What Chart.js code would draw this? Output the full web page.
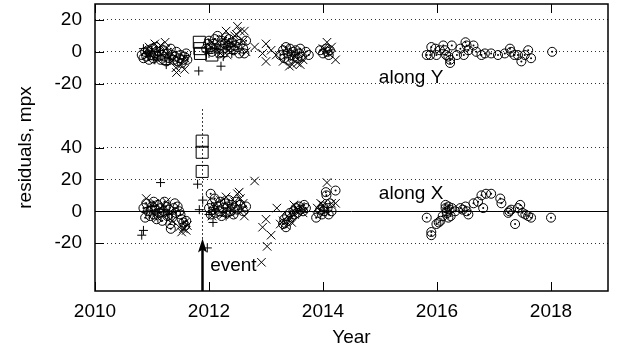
<!DOCTYPE html>
<html>
<head>
<meta charset="utf-8">
<script src="https://cdn.jsdelivr.net/npm/chart.js@4/dist/chart.umd.min.js"></script>
<style>
  html, body { margin: 0; padding: 0; background: #fff; }
  canvas { display: block; }
</style>
</head>
<body>
<canvas id="residualsChart" width="625" height="358"></canvas>
<script>
// residuals as [year, mpx]; upper panel = along Y, lower panel = along X
const alongYCircles = [
  [2010.82,-2],[2010.85,-4],[2010.88,0],[2010.9,-3],[2010.93,1],[2010.95,-5],[2010.98,-2],[2011.0,2],[2011.02,-4],[2011.05,-1],
  [2011.07,3],[2011.1,-3],[2011.12,0],[2011.15,-5],[2011.17,-2],[2011.2,1],[2011.22,-3],[2011.25,-6],[2011.27,-1],[2011.3,-4],
  [2011.33,2],[2011.35,-2],[2011.38,-5],[2011.4,-3],[2011.43,0],[2011.45,-6],[2011.48,-4],[2011.5,-2],[2011.52,-7],[2011.55,-5],
  [2011.57,-3],[2011.6,-1],[2011.62,-5],
  [2011.95,2],[2011.98,5],[2012.0,7],[2012.03,3],[2012.05,0],[2012.08,5],[2012.1,8],[2012.13,2],[2012.15,10],[2012.18,-1],
  [2012.2,4],[2012.22,7],[2012.25,2],[2012.28,5],[2012.3,9],[2012.33,4],[2012.35,8],[2012.38,3],[2012.4,6],[2012.43,1],
  [2012.45,4],[2012.48,7],[2012.5,3],[2012.53,-1],[2012.55,5],[2012.6,2],[2012.62,-1],[2012.65,7],
  [2013.25,-2],[2013.3,1],[2013.32,-4],[2013.35,3],[2013.38,-1],[2013.4,-5],[2013.42,2],[2013.45,-2],[2013.48,0],[2013.5,-3],
  [2013.52,1],[2013.55,-4],[2013.58,-1],[2013.6,2],[2013.63,-3],[2013.7,0],[2013.75,-2],
  [2013.95,1],[2014.0,-1],[2014.05,2],[2014.08,0],[2014.1,-2],[2014.12,1],
  [2015.82,-2],[2015.88,-2],[2015.9,3],[2015.97,2],[2015.99,-2],[2016.05,1],[2016.11,4],[2016.14,1],[2016.16,-2],[2016.2,-3],
  [2016.23,-5],[2016.23,-7],[2016.26,4],[2016.35,-2],[2016.41,2],[2016.47,-2],[2016.5,6],[2016.52,4],[2016.55,1],[2016.64,4],
  [2016.69,0],[2016.78,-2],[2016.84,-1],[2016.95,-1],[2017.07,-2],[2017.19,-1],[2017.28,2],[2017.3,0],[2017.36,-2],[2017.42,-2],
  [2017.48,-6],[2017.54,-2],[2017.6,1],[2017.65,-4],
  [2018.02,0]
];
const alongYCrosses = [
  [2010.95,3],[2011.0,1],[2011.05,5],[2011.1,-5],[2011.15,4],[2011.23,6],[2011.25,2],[2011.3,-3],[2011.35,-6],[2011.42,-10],
  [2011.43,-13],[2011.51,-8],[2011.57,-11],[2011.58,-4],
  [2012.05,6],[2012.15,3],[2012.2,-1],[2012.25,8],[2012.3,13],[2012.32,-2],[2012.35,1],[2012.4,5],[2012.45,10],[2012.48,11],
  [2012.5,16],[2012.55,13],[2012.6,7],[2012.62,13],[2012.65,0],
  [2012.8,3],[2012.94,-1],[2013.0,5],[2013.0,-6],[2013.09,1],[2013.18,-2],
  [2013.3,-6],[2013.35,2],[2013.41,-9],[2013.46,-8],[2013.5,-3],[2013.55,-7],[2013.6,-8],[2013.65,-5],
  [2014.0,2],[2014.07,6],[2014.1,-1],[2014.15,3],[2014.22,-5]
];
const alongYPluses = [
  [2010.85,2],[2010.9,-1],[2010.95,-3],[2011.0,0],[2011.05,-5],[2011.1,-2],[2011.15,1],[2011.25,-8],[2011.3,-4],
  [2011.82,-12],
  [2011.95,0],[2012.0,-1],[2012.1,2],[2012.21,-9],[2012.25,-3],[2012.3,3],[2012.4,-1]
];
const alongYSquares = [[2011.83,6],[2011.84,2],[2011.85,-1],[2012.05,-2]];

const alongXCircles = [
  [2010.85,2],[2010.88,-4],[2010.9,5],[2010.93,0],[2010.97,-3],[2011.0,3],[2011.03,-2],[2011.03,6],[2011.05,1],[2011.08,-5],
  [2011.1,4],[2011.13,-1],[2011.15,2],[2011.18,-6],[2011.2,0],[2011.22,6],[2011.25,3],[2011.27,-3],[2011.3,1],[2011.32,-8],
  [2011.33,-11],[2011.35,-4],[2011.38,2],[2011.4,5],[2011.42,-1],[2011.45,3],[2011.48,0],[2011.5,-2],[2011.52,-5],[2011.55,-7],
  [2011.58,-9],[2011.6,-6],
  [2012.0,2],[2012.03,-2],[2012.03,11],[2012.05,5],[2012.08,1],[2012.1,8],[2012.12,-1],[2012.15,3],[2012.18,0],[2012.2,6],
  [2012.22,-3],[2012.25,2],[2012.28,5],[2012.3,-1],[2012.33,3],[2012.35,7],[2012.38,0],[2012.4,4],[2012.43,-2],[2012.45,2],
  [2012.48,6],[2012.5,1],[2012.55,4],[2012.6,0],[2012.65,3],
  [2013.3,-8],[2013.32,-5],[2013.35,-10],[2013.37,-3],[2013.4,-6],[2013.42,-1],[2013.45,-4],[2013.48,0],[2013.5,-2],[2013.52,2],
  [2013.55,-1],[2013.58,3],[2013.6,1],[2013.65,0],[2013.67,4],[2013.7,2],
  [2013.88,-4],[2013.92,-1],[2013.95,1],[2013.98,-2],[2014.0,3],[2014.02,0],[2014.05,12],[2014.06,10],[2014.08,2],[2014.1,-2],
  [2014.12,5],[2014.15,0],[2014.22,13],
  [2015.82,-4],[2015.9,-13],[2015.9,-15],[2015.99,-8],[2016.03,-7],[2016.06,-6],[2016.1,-3],[2016.15,4],[2016.15,2],[2016.17,-1],
  [2016.17,0],[2016.2,3],[2016.2,-4],[2016.22,1],[2016.24,-3],[2016.26,2],[2016.32,0],[2016.41,2],[2016.45,1],[2016.5,3],
  [2016.52,0],[2016.55,-2],[2016.64,5],[2016.72,6],[2016.78,10],[2016.81,2],[2016.86,11],[2016.95,11],[2017.11,8],[2017.13,5],
  [2017.25,-1],[2017.27,0],[2017.3,1],[2017.37,-8],[2017.42,2],[2017.46,4],[2017.5,-1],[2017.55,-2],[2017.6,-3],[2017.65,-4],
  [2018.0,-4]
];
const alongXCrosses = [
  [2010.9,8],[2010.95,3],[2011.0,-2],[2011.05,5],[2011.1,-4],[2011.15,2],[2011.2,-3],[2011.25,6],[2011.3,-1],[2011.35,-6],
  [2011.48,-10],[2011.52,-13],[2011.55,-11],[2011.58,-7],[2011.6,-12],[2011.62,-9],
  [2012.05,-3],[2012.1,4],[2012.2,7],[2012.25,-2],[2012.3,9],[2012.35,3],[2012.4,-2],[2012.45,6],[2012.5,11],[2012.53,12],
  [2012.55,8],[2012.58,1],[2012.6,5],[2012.62,-3],
  [2012.8,19],[2012.92,-32],
  [2012.94,-10],[2013.0,-5],[2013.02,-22],[2013.09,-15],[2013.19,2],
  [2013.25,-8],[2013.3,-6],[2013.35,-9],[2013.4,-4],[2013.45,-7],[2013.49,4],[2013.5,-2],[2013.55,1],[2013.6,3],[2013.65,-1],
  [2013.9,2],[2013.96,5],[2014.0,4],[2014.05,0],[2014.07,18],[2014.15,5],[2014.22,5]
];
const alongXPluses = [
  [2010.82,-15],[2010.85,-12],[2010.9,0],[2011.0,3],[2011.1,-1],[2011.15,18],[2011.2,1],[2011.3,-2],
  [2011.8,17],[2011.83,1],[2011.89,7],[2011.97,-23],
  [2012.0,-2],[2012.07,-7],[2012.1,1],[2012.3,-3]
];
const alongXSquares = [[2011.88,44],[2011.88,37],[2011.88,25]];

const xTickValues = [2010, 2012, 2014, 2016, 2018];
const yTickValues = [-20, 0, 20, 40, 80, 100, 120]; // 80..120 are the upper panel
const panelOffset = 100;                           // upper panel drawn 100 mpx higher

const eventYear = 2011.88;
const eventLineTop = 64;
const eventArrowTip = -17;

const textFont = '"Liberation Sans", Arial, sans-serif';
const textSize = 19;

const toPoints = (arr, shift) => arr.map(p => ({ x: p[0], y: p[1] + shift }));

function markerSet(arr, shift, style) {
    return Object.assign({
        data: toPoints(arr, shift),
        borderColor: '#000',
        backgroundColor: 'rgba(0,0,0,0)',
        borderWidth: 1
    }, style);
}

const circleStyle = { pointStyle: 'circle', pointRadius: 4.5 };
const dotStyle = { pointStyle: 'circle', pointRadius: 1, borderWidth: 0, backgroundColor: '#000' };
const crossStyle = { pointStyle: 'crossRot', pointRadius: 6 };
const plusStyle = { pointStyle: 'cross', pointRadius: 4.5 };
const squareStyle = { pointStyle: 'rect', pointRadius: 8.5 };

const decorations = {
    id: 'decorations',
    beforeDatasetsDraw(chart) {
        const { ctx, chartArea: a, scales: { x, y } } = chart;
        ctx.save();
        ctx.strokeStyle = '#000';
        ctx.lineWidth = 1;
        // zero line of the lower panel
        const y0 = Math.round(y.getPixelForValue(0)) + 0.5;
        ctx.beginPath();
        ctx.moveTo(a.left, y0);
        ctx.lineTo(a.right, y0);
        ctx.stroke();
        // dotted event marker
        const ex = Math.round(x.getPixelForValue(eventYear)) + 0.5;
        ctx.setLineDash([1.5, 2.5]);
        ctx.beginPath();
        ctx.moveTo(ex, y.getPixelForValue(eventLineTop));
        ctx.lineTo(ex, a.bottom);
        ctx.stroke();
        ctx.restore();
    },
    afterDraw(chart) {
        const { ctx, chartArea: a, scales: { x, y } } = chart;
        ctx.save();
        ctx.strokeStyle = '#000';
        ctx.fillStyle = '#000';

        // event arrow
        const ex = Math.round(x.getPixelForValue(eventYear)) + 0.5;
        const tip = y.getPixelForValue(eventArrowTip);
        ctx.lineWidth = 2.5;
        ctx.beginPath();
        ctx.moveTo(ex, a.bottom);
        ctx.lineTo(ex, tip + 8);
        ctx.stroke();
        ctx.beginPath();
        ctx.moveTo(ex, tip);
        ctx.lineTo(ex - 4.5, tip + 14);
        ctx.lineTo(ex, tip + 11);
        ctx.lineTo(ex + 4.5, tip + 14);
        ctx.closePath();
        ctx.fill();

        // labels
        ctx.font = textSize + 'px ' + textFont;
        ctx.textBaseline = 'middle';
        ctx.textAlign = 'left';
        ctx.fillText('event', x.getPixelForValue(2012.02), y.getPixelForValue(-34));
        ctx.fillText('along Y', x.getPixelForValue(2014.98), y.getPixelForValue(-16 + panelOffset));
        ctx.fillText('along X', x.getPixelForValue(2014.98), y.getPixelForValue(11));

        // inward tick marks
        ctx.lineWidth = 1;
        ctx.beginPath();
        xTickValues.forEach(v => {
            const px = Math.round(x.getPixelForValue(v)) + 0.5;
            ctx.moveTo(px, a.bottom);
            ctx.lineTo(px, a.bottom - 9);
            ctx.moveTo(px, a.top);
            ctx.lineTo(px, a.top + 9);
        });
        yTickValues.forEach(v => {
            const py = Math.round(y.getPixelForValue(v)) + 0.5;
            ctx.moveTo(a.left, py);
            ctx.lineTo(a.left + 9, py);
        });
        ctx.stroke();

        // frame
        ctx.lineWidth = 1.5;
        ctx.strokeRect(a.left, a.top, a.right - a.left, a.bottom - a.top);
        ctx.restore();
    }
};

new Chart(document.getElementById('residualsChart'), {
    type: 'scatter',
    data: {
        datasets: [
            markerSet(alongYCircles, panelOffset, circleStyle),
            markerSet(alongYCircles, panelOffset, dotStyle),
            markerSet(alongYCrosses, panelOffset, crossStyle),
            markerSet(alongYPluses, panelOffset, plusStyle),
            markerSet(alongYSquares, panelOffset, squareStyle),
            markerSet(alongXCircles, 0, circleStyle),
            markerSet(alongXCircles, 0, dotStyle),
            markerSet(alongXCrosses, 0, crossStyle),
            markerSet(alongXPluses, 0, plusStyle),
            markerSet(alongXSquares, 0, squareStyle)
        ]
    },
    options: {
        responsive: false,
        animation: false,
        devicePixelRatio: 1,
        layout: { autoPadding: false, padding: { top: 4, right: 17, left: 0, bottom: 0 } },
        plugins: {
            legend: { display: false },
            tooltip: { enabled: false }
        },
        scales: {
            x: {
                type: 'linear',
                min: 2010,
                max: 2019,
                afterBuildTicks: s => { s.ticks = xTickValues.map(v => ({ value: v })); },
                afterFit: s => { s.height = 67; s.paddingLeft = 0; s.paddingRight = 0; },
                grid: { display: false, drawTicks: false },
                border: { display: false },
                ticks: {
                    color: '#000',
                    font: { family: textFont, size: textSize },
                    padding: 9,
                    maxRotation: 0,
                    callback: v => String(v)
                },
                title: {
                    display: true,
                    text: 'Year',
                    color: '#000',
                    font: { family: textFont, size: textSize },
                    padding: { top: 0, bottom: 9 }
                }
            },
            y: {
                type: 'linear',
                min: -50,
                max: 130,
                afterBuildTicks: s => { s.ticks = yTickValues.map(v => ({ value: v })); },
                afterFit: s => { s.width = 95; s.paddingTop = 0; s.paddingBottom = 0; },
                grid: {
                    drawTicks: false,
                    lineWidth: 1,
                    color: c => (c.tick && c.tick.value === 0) ? 'rgba(0,0,0,0)' : '#333'
                },
                border: { display: false, dash: [1, 3] },
                ticks: {
                    color: '#000',
                    font: { family: textFont, size: textSize },
                    padding: 13,
                    callback: v => String(v >= 70 ? v - panelOffset : v)
                },
                title: {
                    display: true,
                    text: 'residuals, mpx',
                    color: '#000',
                    font: { family: textFont, size: textSize },
                    padding: { top: 14, bottom: 0 }
                }
            }
        }
    },
    plugins: [decorations]
});
</script>
</body>
</html>
